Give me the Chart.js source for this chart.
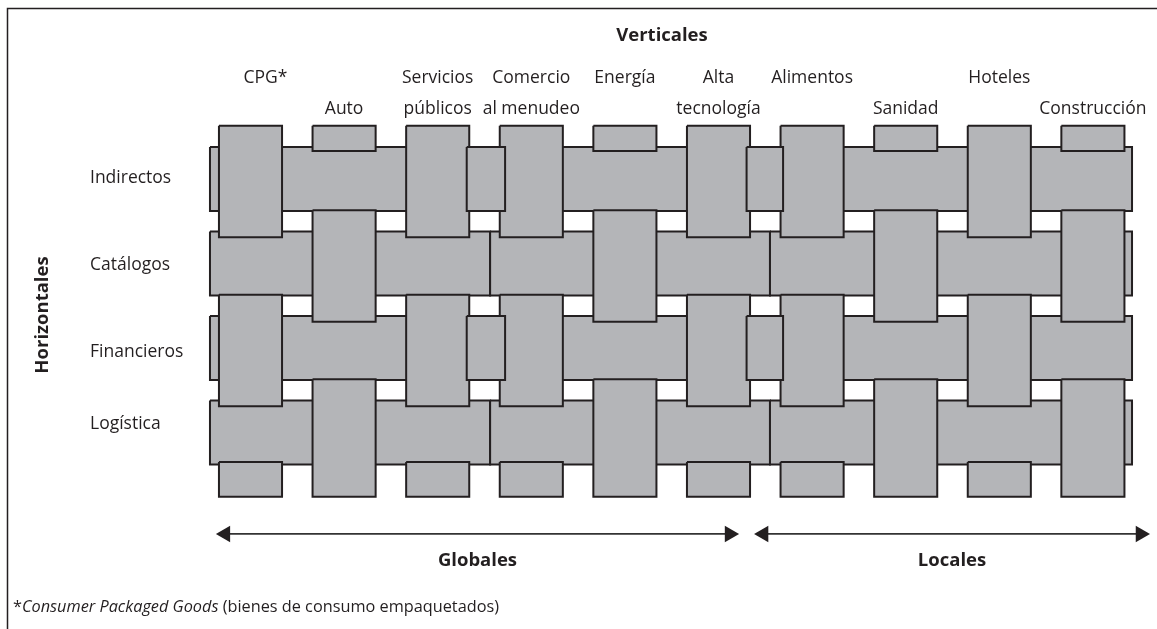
<!DOCTYPE html>
<html>
<head>
<meta charset="utf-8">
<title>Verticales y horizontales</title>
<script src="https://cdn.jsdelivr.net/npm/chart.js@4.4.1/dist/chart.umd.min.js"></script>
<style>
  html, body { margin: 0; padding: 0; background: #fff; }
  #wrap { position: relative; width: 1157px; height: 629px; }
</style>
</head>
<body>
<div id="wrap"><canvas id="canvas"></canvas></div>
<script>
// columnas (verticales), una o dos lineas de texto: [arriba, abajo]
var verticales = [
  ['CPG*', ''],
  ['', 'Auto'],
  ['Servicios', 'públicos'],
  ['Comercio', 'al menudeo'],
  ['Energía', ''],
  ['Alta', 'tecnología'],
  ['Alimentos', ''],
  ['', 'Sanidad'],
  ['Hoteles', ''],
  ['', 'Construcción']
];
// filas (horizontales)
var horizontales = ['Indirectos', 'Catálogos', 'Financieros', 'Logística'];
// 1 = la vertical pasa por encima de las filas 0 y 2, 0 = de las filas 1 y 3
var encimaPrimera = [1, 0, 1, 1, 0, 1, 1, 0, 1, 0];
var grupos = ['Globales', 'Locales'];
var nota = ['*', 'Consumer Packaged Goods', ' (bienes de consumo empaquetados)'];

// ---- layout ----
var GRIS = '#b4b5b8', TINTA = '#231f20';
var W = 1157, H = 629;
var COL_PX = 93.6, COL0_PX = 250.5;
var FILA_PX = 84.5, FILA0_PX = 179;
var xMin = -COL0_PX / COL_PX, xMax = xMin + W / COL_PX;
var yMin = -FILA0_PX / FILA_PX, yMax = yMin + H / FILA_PX;
var MEDIA_COL = 0.337, MEDIA_FILA = 0.379;
var FILA_IZQ = -0.433, FILA_DER = 9.418;
var CORTES = [2.56, 5.55];
var JUNTAS = [[2.31, 2.72], [5.30, 5.69]];
var ENCIMA = [-0.63, 0.69], FONDO = 0.76;
var PESTANA_ARRIBA = [-0.63, -0.33], PESTANA_ABAJO = 0.35;
var FLECHAS = [[-0.37, 5.22], [5.38, 9.61]];
var FLECHA_Y = 4.2, PUNTA = 9.5;
var FUENTE = '"Open Sans", "Noto Sans", sans-serif';

function rect(x0, x1, y0, y1) {
  return [{x: x0, y: y0}, {x: x1, y: y0}, {x: x1, y: y1}, {x: x0, y: y1}, {x: x0, y: y0}];
}
function pieza(puntos) {
  return {
    data: puntos, fill: 'shape', backgroundColor: GRIS, borderColor: TINTA,
    borderWidth: 2, pointRadius: 0, tension: 0, borderJoinStyle: 'miter'
  };
}

// orden de pintado: filas, verticales, juntas, flechas
var capas = [];
var bordes = [FILA_IZQ].concat(CORTES).concat([FILA_DER]);
horizontales.forEach(function (h, r) {
  for (var s = 0; s < bordes.length - 1; s++) {
    capas.push(pieza(rect(bordes[s], bordes[s + 1], r - MEDIA_FILA, r + MEDIA_FILA)));
  }
});
verticales.forEach(function (v, c) {
  var x0 = c - MEDIA_COL, x1 = c + MEDIA_COL;
  var u = horizontales.length - 1;
  horizontales.forEach(function (h, r) {
    var encima = (r % 2 === 0) === (encimaPrimera[c] === 1);
    var abajo = r === u ? FONDO : ENCIMA[1];
    if (encima) capas.push(pieza(rect(x0, x1, r + ENCIMA[0], r + abajo)));
  });
  // pestañas donde la vertical pasa por debajo de la primera / ultima fila
  if (encimaPrimera[c] === 0) capas.push(pieza(rect(x0, x1, PESTANA_ARRIBA[0], PESTANA_ARRIBA[1])));
  if ((u % 2 === 0) !== (encimaPrimera[c] === 1)) {
    capas.push(pieza(rect(x0, x1, u + PESTANA_ABAJO, u + FONDO)));
  }
});
horizontales.forEach(function (h, r) {
  if (r % 2 !== 0) return;
  JUNTAS.forEach(function (j) {
    capas.push(pieza(rect(j[0], j[1], r - MEDIA_FILA, r + MEDIA_FILA)));
  });
});
grupos.forEach(function (g, i) {
  var d = PUNTA / COL_PX;
  capas.push({
    data: [{x: FLECHAS[i][0] + d, y: FLECHA_Y}, {x: FLECHAS[i][1] - d, y: FLECHA_Y}],
    fill: false, borderColor: '#333', borderWidth: 1.6,
    pointStyle: 'triangle', pointRadius: PUNTA, pointRotation: [-90, 90],
    pointBackgroundColor: TINTA, pointBorderWidth: 0
  });
});
capas.reverse();

var textos = {
  id: 'textos',
  beforeDraw: function (chart) {
    var ctx = chart.ctx;
    ctx.save();
    ctx.strokeStyle = TINTA;
    ctx.lineWidth = 1.5;
    ctx.beginPath();
    ctx.moveTo(W, 8.5);
    ctx.lineTo(7.5, 8.5);
    ctx.lineTo(7.5, H);
    ctx.stroke();
    ctx.restore();
  },
  afterDraw: function (chart) {
    var ctx = chart.ctx, xs = chart.scales.x, ys = chart.scales.y;
    ctx.save();
    ctx.fillStyle = TINTA;
    ctx.textBaseline = 'middle';

    ctx.font = 'bold 18.5px ' + FUENTE;
    ctx.textAlign = 'center';
    ctx.fillText('Verticales', 662, 36);

    ctx.font = '17.5px ' + FUENTE;
    var y0 = ys.getPixelForValue(0);
    verticales.forEach(function (v, c) {
      var x = xs.getPixelForValue(c) + (c === 0 ? 15 : 0);
      if (v[0]) ctx.fillText(v[0], x, y0 - 101);
      if (v[1]) ctx.fillText(v[1], x, y0 - 70);
    });

    ctx.textAlign = 'left';
    var dy = [-1, 2, 4, -8];
    horizontales.forEach(function (h, r) {
      ctx.fillText(h, 90, ys.getPixelForValue(r) + dy[r]);
    });

    ctx.font = 'bold 18.5px ' + FUENTE;
    ctx.textAlign = 'center';
    var yf = ys.getPixelForValue(FLECHA_Y);
    grupos.forEach(function (g, i) {
      var xm = (xs.getPixelForValue(FLECHAS[i][0]) + xs.getPixelForValue(FLECHAS[i][1])) / 2;
      ctx.fillText(g, xm, yf + 27);
    });

    ctx.save();
    ctx.translate(43, 315);
    ctx.rotate(-Math.PI / 2);
    ctx.fillText('Horizontales', 0, 0);
    ctx.restore();

    ctx.textAlign = 'left';
    var x = 13, yn = 607;
    ctx.font = '16.3px ' + FUENTE;
    ctx.fillText(nota[0], x, yn);
    x += ctx.measureText(nota[0]).width;
    ctx.font = 'italic 16.3px ' + FUENTE;
    ctx.fillText(nota[1], x, yn);
    x += ctx.measureText(nota[1]).width;
    ctx.font = '16.3px ' + FUENTE;
    ctx.fillText(nota[2], x, yn);
    ctx.restore();
  }
};

new Chart(document.getElementById('canvas'), {
  type: 'line',
  data: { datasets: capas },
  options: {
    responsive: true,
    maintainAspectRatio: false,
    animation: false,
    events: [],
    layout: { padding: 0, autoPadding: false },
    plugins: { legend: { display: false }, tooltip: { enabled: false } },
    scales: {
      x: { type: 'linear', min: xMin, max: xMax, display: false },
      y: { type: 'linear', reverse: true, min: yMin, max: yMax, display: false }
    }
  },
  plugins: [textos]
});
</script>
</body>
</html>
